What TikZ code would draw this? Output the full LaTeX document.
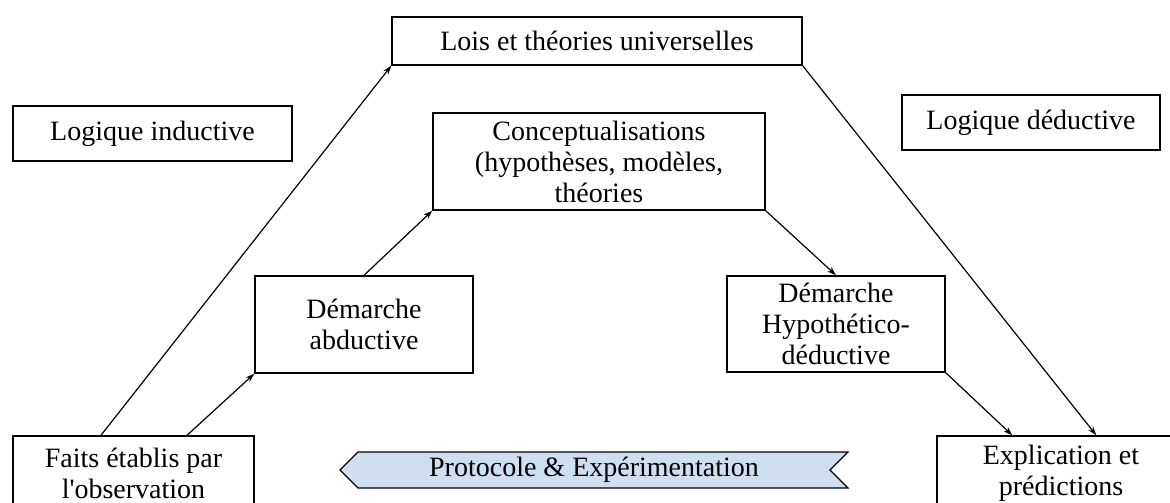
\documentclass[tikz,border=0pt]{standalone}
\usepackage{fontspec}
\setmainfont{Liberation Serif}[Ligatures=TeXOff]
\usetikzlibrary{arrows.meta,shapes.symbols}
\definecolor{protofill}{HTML}{CFDFF1}
\tikzset{
  box/.style={draw, line width=1.4pt, rectangle, inner sep=0pt, align=center, font=\fontsize{28}{31}\selectfont},
  arr/.style={line width=1.2pt, -{Stealth[length=9pt,width=6pt]}},
}
\begin{document}
\begin{tikzpicture}[x=1pt,y=-1pt]
\useasboundingbox (0,0) rectangle (1170,503);
\node[box, minimum width=410, minimum height=48] (lois) at (597,41) {Lois et théories universelles};
\node[box, minimum width=279, minimum height=55] (ind) at (152.5,133.5) {Logique inductive};
\node[box, minimum width=258, minimum height=55] (ded) at (1031,122.5) {Logique déductive};
\node[box, minimum width=332, minimum height=97] (concept) at (599,161.5) {Conceptualisations\\(hypothèses, modèles,\\théories};
\node[box, minimum width=218, minimum height=97] (abd) at (364,324.5) {Démarche\\abductive};
\node[box, minimum width=218, minimum height=96] (hyp) at (836,324) {Démarche\\Hypothético-\\déductive};
\node[box, minimum width=241, minimum height=74] (faits) at (133.5,473) {Faits établis par\\l'observation};
\node[box, minimum width=248, minimum height=74] (expl) at (1061,473) {Explication et\\prédictions};
\node[signal, signal to=west, signal from=east, signal pointer angle=90, draw, line width=1.2pt, fill=protofill, minimum width=508, minimum height=36, inner sep=0pt, font=\fontsize{28}{31}\selectfont] (proto) at (594,470) {Protocole \& Expérimentation};
\draw[arr] ([xshift=-32.5]faits.north) -- (lois.south west);
\draw[arr] ([xshift=53.5]faits.north) -- (abd.south west);
\draw[arr] (abd.north) -- (concept.south west);
\draw[arr] (concept.south east) -- (hyp.north);
\draw[arr] (hyp.south east) -- ([xshift=76]expl.north west);
\draw[arr] (lois.south east) -- ([xshift=160]expl.north west);
\end{tikzpicture}
\end{document}
